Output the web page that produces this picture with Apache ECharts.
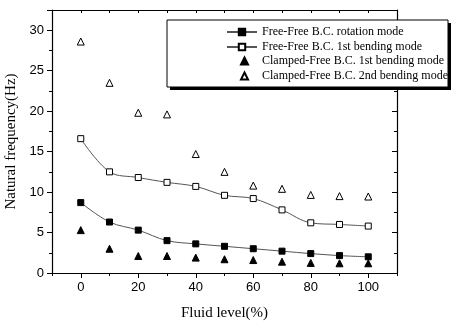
<!DOCTYPE html>
<html>
<head>
<meta charset="utf-8">
<script src="https://cdn.jsdelivr.net/npm/echarts@6/dist/echarts.min.js"></script>
<style>
  html, body { margin: 0; padding: 0; background: #fff; }
  #chart { width: 451px; height: 322px; }
</style>
</head>
<body>
<div id="chart"></div>
<script>
// Fluid level (%)
const fluidLevel = [0, 10, 20, 30, 40, 50, 60, 70, 80, 90, 100]

// Natural frequency (Hz)
const ffRotation = [8.7, 6.3, 5.3, 4.0, 3.6, 3.3, 3.0, 2.7, 2.4, 2.15, 2.0]
const ffBending1 = [16.6, 12.5, 11.8, 11.2, 10.7, 9.6, 9.2, 7.8, 6.2, 6.0, 5.8]
const cfBending1 = [5.3, 3.0, 2.1, 2.1, 1.9, 1.7, 1.6, 1.4, 1.25, 1.2, 1.2]
const cfBending2 = [28.6, 23.5, 19.8, 19.6, 14.7, 12.5, 10.8, 10.4, 9.65, 9.5, 9.45]

const seriesNames = [
  'Free-Free B.C. rotation mode',
  'Free-Free B.C. 1st bending mode',
  'Clamped-Free B.C. 1st bending mode',
  'Clamped-Free B.C. 2nd bending mode',
]

const xTicks = [0, 20, 40, 60, 80, 100]

const SERIF = '"Liberation Serif", "DejaVu Serif", serif'
const SANS = '"Liberation Sans", Arial, sans-serif'
const INK = '#000'

const pairs = (ys) => fluidLevel.map((x, i) => [x, ys[i]])

const chart = echarts.init(document.getElementById('chart'), null, { renderer: 'canvas' })

const xBase = {
  type: 'value',
  min: -10,
  max: 110,
  splitLine: { show: false },
  axisLine: { show: true, onZero: false, lineStyle: { color: INK, width: 1.2 } },
}
const yBase = {
  type: 'value',
  min: 0,
  max: 32.5,
  interval: 5,
  splitLine: { show: false },
  axisLine: { show: true, onZero: false, lineStyle: { color: INK, width: 1.2 } },
}

// Legend box with a hard drop shadow
const LEG = { left: 167, top: 20, width: 281, height: 67 }
const legendText = { fontFamily: SERIF, fontSize: 12, color: INK, lineHeight: 14 }

chart.setOption({
  animation: false,
  backgroundColor: '#fff',
  grid: { left: 52, right: 54, top: 10, bottom: 49, outerBoundsMode: 'none' },
  graphic: [
    {
      type: 'rect',
      z: 10,
      shape: { x: LEG.left + 3, y: LEG.top + 3, width: LEG.width, height: LEG.height },
      style: { fill: '#000' },
    },
    {
      type: 'rect',
      z: 11,
      shape: { x: LEG.left, y: LEG.top, width: LEG.width, height: LEG.height },
      style: { fill: '#fff', stroke: INK, lineWidth: 1 },
    },
  ],
  legend: [
    {
      orient: 'vertical',
      left: 226,
      top: 25,
      padding: 0,
      z: 12,
      itemWidth: 30,
      itemHeight: 8,
      itemGap: 1,
      textStyle: legendText,
      data: seriesNames.slice(0, 2),
    },
    {
      orient: 'vertical',
      left: 240,
      top: 54,
      padding: 0,
      z: 12,
      itemWidth: 7,
      itemHeight: 7,
      itemGap: 1,
      textStyle: { ...legendText, padding: [0, 0, 0, 9] },
      data: seriesNames.slice(2),
    },
  ],
  xAxis: [
    {
      ...xBase,
      position: 'bottom',
      name: 'Fluid level(%)',
      nameLocation: 'middle',
      nameGap: 33,
      nameTextStyle: { fontFamily: SERIF, fontSize: 15, color: INK },
      axisTick: { show: true, inside: false, length: 5, customValues: xTicks, lineStyle: { color: INK } },
      axisLabel: { customValues: xTicks, fontFamily: SANS, fontSize: 13, color: INK, margin: 8 },
    },
    {
      // minor ticks, bottom
      ...xBase,
      position: 'bottom',
      interval: 10,
      axisLine: { show: false },
      axisTick: { show: true, inside: false, length: 3, lineStyle: { color: INK } },
      axisLabel: { show: false },
    },
    {
      // mirrored top axis
      ...xBase,
      position: 'top',
      interval: 10,
      axisTick: { show: true, inside: true, length: 3, lineStyle: { color: INK } },
      axisLabel: { show: false },
    },
    {
      ...xBase,
      position: 'top',
      axisLine: { show: false },
      axisTick: { show: true, inside: true, length: 5, customValues: xTicks, lineStyle: { color: INK } },
      axisLabel: { show: false },
    },
  ],
  yAxis: [
    {
      ...yBase,
      position: 'left',
      name: 'Natural frequency(Hz)',
      nameLocation: 'middle',
      nameGap: 27,
      nameTextStyle: { fontFamily: SERIF, fontSize: 15, color: INK },
      axisTick: { show: true, inside: false, length: 5, lineStyle: { color: INK } },
      minorTick: { show: true, splitNumber: 2, length: 3, lineStyle: { color: INK } },
      axisLabel: { fontFamily: SANS, fontSize: 13, color: INK, margin: 8, showMaxLabel: false },
    },
    {
      ...yBase,
      position: 'right',
      axisTick: { show: true, inside: true, length: 5, lineStyle: { color: INK } },
      minorTick: { show: true, splitNumber: 2, length: 3, lineStyle: { color: INK } },
      axisLabel: { show: false },
    },
  ],
  series: [
    {
      name: seriesNames[0],
      type: 'line',
      smooth: 0.35,
      symbol: 'rect',
      symbolSize: 6,
      data: pairs(ffRotation),
      lineStyle: { color: '#555', width: 1 },
      itemStyle: { color: INK, borderColor: INK, borderWidth: 1 },
      z: 3,
    },
    {
      name: seriesNames[1],
      type: 'line',
      smooth: 0.35,
      symbol: 'rect',
      symbolSize: 6,
      data: pairs(ffBending1),
      lineStyle: { color: '#555', width: 1 },
      itemStyle: { color: '#fff', borderColor: INK, borderWidth: 1 },
      z: 3,
    },
    {
      name: seriesNames[2],
      type: 'scatter',
      symbol: 'triangle',
      symbolSize: 7,
      data: pairs(cfBending1),
      itemStyle: { color: INK, borderColor: INK, borderWidth: 1, opacity: 1 },
      z: 3,
    },
    {
      name: seriesNames[3],
      type: 'scatter',
      symbol: 'triangle',
      symbolSize: 7,
      data: pairs(cfBending2),
      itemStyle: { color: '#fff', borderColor: INK, borderWidth: 1, opacity: 1 },
      z: 3,
    },
  ],
})
</script>
</body>
</html>
